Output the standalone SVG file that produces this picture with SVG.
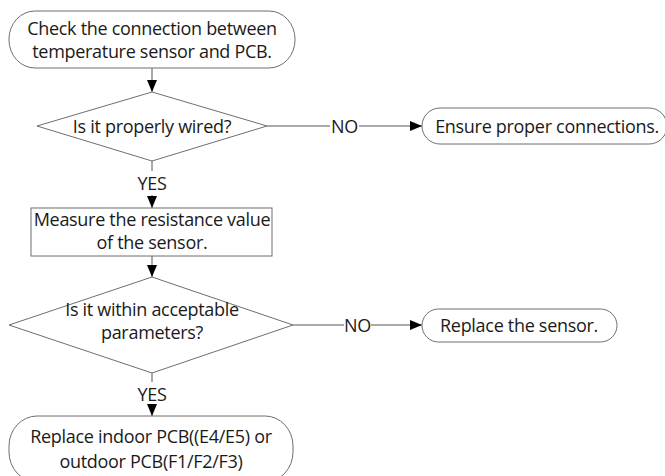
<svg xmlns="http://www.w3.org/2000/svg" width="665" height="476" viewBox="0 0 665 476">
<defs>
<style>
.shape{fill:#fff;stroke:#6e6e6e;stroke-width:1}
.line{stroke:#555;stroke-width:1;fill:none}
.t{font-family:"Open Sans","Noto Sans",sans-serif;font-size:18px;letter-spacing:-0.3px;fill:#1a1a1a;text-anchor:middle}
</style>
<marker id="ah" markerUnits="userSpaceOnUse" markerWidth="12" markerHeight="12" viewBox="0 0 12 12" refX="12" refY="6" orient="auto">
<path d="M0,1 L12,6 L0,11 Z" fill="#000"/>
</marker>
</defs>
<rect width="665" height="476" fill="#fff"/>
<g id="connectors">
<line class="line" x1="152" y1="68" x2="152" y2="92" marker-end="url(#ah)"/>
<line class="line" x1="152" y1="161" x2="152" y2="171"/>
<text class="t" x="152" y="190">YES</text>
<line class="line" x1="152" y1="195" x2="152" y2="208" marker-end="url(#ah)"/>
<line class="line" x1="152" y1="256" x2="152" y2="277" marker-end="url(#ah)"/>
<line class="line" x1="152" y1="373" x2="152" y2="382"/>
<text class="t" x="152" y="401">YES</text>
<line class="line" x1="152" y1="404" x2="152" y2="416" marker-end="url(#ah)"/>
<line class="line" x1="267" y1="126" x2="330" y2="126"/>
<text class="t" x="344.5" y="133">NO</text>
<line class="line" x1="359" y1="126" x2="422" y2="126" marker-end="url(#ah)"/>
<line class="line" x1="293" y1="325" x2="344" y2="325"/>
<text class="t" x="357.5" y="332">NO</text>
<line class="line" x1="371" y1="325" x2="422" y2="325" marker-end="url(#ah)"/>
</g>
<g id="start">
<rect class="shape" x="9" y="11" width="286" height="57" rx="26" ry="28"/>
<text class="t" x="152" y="35">Check the connection between</text>
<text class="t" x="152" y="58">temperature sensor and PCB.</text>
</g>
<g id="wired">
<polygon class="shape" points="152,92 267,126 152,161 37,126"/>
<text class="t" x="152" y="133">Is it properly wired?</text>
</g>
<g id="ensure">
<rect class="shape" x="422" y="108" width="245" height="36" rx="18" ry="18"/>
<text class="t" x="547" y="133">Ensure proper connections.</text>
</g>
<g id="measure">
<rect class="shape" x="31" y="208" width="241" height="48"/>
<text class="t" x="152" y="226">Measure the resistance value</text>
<text class="t" x="152" y="249">of the sensor.</text>
</g>
<g id="within">
<polygon class="shape" points="152,277 293,325 152,373 9,325"/>
<text class="t" x="152" y="316">Is it within acceptable</text>
<text class="t" x="152" y="339">parameters?</text>
</g>
<g id="replace-sensor">
<rect class="shape" x="422" y="309" width="195" height="33" rx="16.5" ry="16.5"/>
<text class="t" x="519" y="332">Replace the sensor.</text>
</g>
<g id="replace-pcb">
<rect class="shape" x="9" y="416" width="284" height="66" rx="28" ry="30"/>
<text class="t" x="151" y="443">Replace indoor PCB((E4/E5) or</text>
<text class="t" x="151" y="468">outdoor PCB(F1/F2/F3)</text>
</g>
</svg>
